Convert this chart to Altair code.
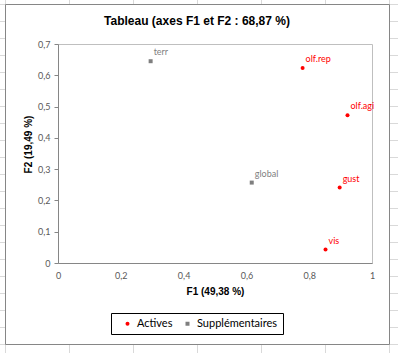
import altair as alt
import pandas as pd

# ---- data ----
labels = ["olf.rep", "olf.agi", "gust", "vis", "terr", "global"]
f1 = [0.779, 0.922, 0.897, 0.852, 0.295, 0.617]
f2 = [0.623, 0.472, 0.241, 0.043, 0.645, 0.257]
groups = ["Actives", "Actives", "Actives", "Actives", "Supplémentaires", "Supplémentaires"]

x_ticks = [0, 0.2, 0.4, 0.6, 0.8, 1]
y_ticks = [0, 0.1, 0.2, 0.3, 0.4, 0.5, 0.6, 0.7]
legend_items = ["Actives", "Supplémentaires"]
legend_colors = ["#ff0000", "#7f7f7f"]
legend_shapes = ["circle", "square"]

title_text = "Tableau (axes F1 et F2 : 68,87 %)"
x_title = "F1 (49,38 %)"
y_title = "F2 (19,49 %)"

df = pd.DataFrame({"label": labels, "F1": f1, "F2": f2, "group": groups})

# ---- layout (pixels) ----
W, H = 314, 219
PAD_L, PAD_T = 58, 44
TOTAL_W, TOTAL_H = 398, 353

# spreadsheet cell grid behind the chart object (decoration only)
sheet_rows = [4.5 + 17 * k - PAD_T for k in range(21)]
sheet_cols = [5.5 + 64 * k - PAD_L for k in range(7)]
frame_l, frame_r = 5.5 - PAD_L, 389.5 - PAD_L
frame_t, frame_b = 4.5 - PAD_T, 344.5 - PAD_T
grid_col = "#d9d9d9"

rows_df = pd.DataFrame({"py": sheet_rows})
cols_df = pd.DataFrame({"px": sheet_cols})
one = pd.DataFrame({"a": [0]})

rows_left = alt.Chart(rows_df).mark_rule(color=grid_col).encode(
    y=alt.Y("py:Q", scale=None, axis=None), x=alt.value(-PAD_L), x2=alt.value(frame_l))
rows_right = alt.Chart(rows_df).mark_rule(color=grid_col).encode(
    y=alt.Y("py:Q", scale=None, axis=None), x=alt.value(frame_r), x2=alt.value(TOTAL_W - PAD_L))
cols_top = alt.Chart(cols_df).mark_rule(color=grid_col).encode(
    x=alt.X("px:Q", scale=None, axis=None), y=alt.value(-PAD_T), y2=alt.value(frame_t))
cols_bot = alt.Chart(cols_df).mark_rule(color=grid_col).encode(
    x=alt.X("px:Q", scale=None, axis=None), y=alt.value(frame_b), y2=alt.value(TOTAL_H - PAD_T))
frame = alt.Chart(one).mark_rect(fillOpacity=0, stroke="#868686", strokeWidth=1).encode(
    x=alt.value(frame_l), x2=alt.value(frame_r), y=alt.value(frame_t), y2=alt.value(frame_b))
title = alt.Chart(one).mark_text(
    text=title_text, font="Liberation Sans", fontSize=12, fontWeight="bold",
    color="black", align="center", baseline="middle").encode(
    x=alt.value(197 - PAD_L), y=alt.value(21 - PAD_T))

bg = alt.layer(rows_left, rows_right, cols_top, cols_bot, frame, title)

label_expr = "replace(format(datum.value, '.1~f'), '.', ',')"

x_axis = alt.Axis(values=x_ticks, labelExpr=label_expr, ticks=False, grid=False,
                  domainColor="#868686", labelColor="#595959", labelFont="Lato",
                  labelFontSize=9, labelPadding=8, labelFlush=False,
                  labelOverlap=False,
                  title=x_title, titleFont="Liberation Sans", titleFontSize=10,
                  titleFontWeight="bold", titleColor="black",
                  titleX=W / 2, titleY=28, titleBaseline="middle",
                  titleAlign="center")
y_axis = alt.Axis(values=y_ticks, labelExpr=label_expr, ticks=True, tickSize=4,
                  tickColor="#868686", grid=False,
                  domainColor="#868686", labelColor="#595959", labelFont="Lato",
                  labelFontSize=9, labelPadding=4, labelFlush=False,
                  labelOverlap=False,
                  title=y_title, titleFont="Liberation Sans", titleFontSize=10,
                  titleFontWeight="bold", titleColor="black",
                  titleX=-30, titleY=100, titleAngle=270,
                  titleBaseline="middle", titleAlign="center")

x_scale = alt.Scale(domain=[0, 1], nice=False, zero=False)
y_scale = alt.Scale(domain=[0, 0.7], nice=False, zero=False)

leg = alt.Legend(title=None, orient="none", legendX=53, legendY=269, direction="horizontal")
color_scale = alt.Scale(domain=legend_items, range=legend_colors)

points = alt.Chart(df).mark_point(filled=True, opacity=1, size=16).encode(
    x=alt.X("F1:Q", scale=x_scale, axis=x_axis),
    y=alt.Y("F2:Q", scale=y_scale, axis=y_axis),
    color=alt.Color("group:N", scale=color_scale, legend=leg),
    shape=alt.Shape("group:N", scale=alt.Scale(domain=legend_items, range=legend_shapes), legend=leg),
)
texts = alt.Chart(df).mark_text(align="left", baseline="alphabetic", dx=3, dy=-6,
                                font="Lato", fontSize=9).encode(
    x=alt.X("F1:Q", scale=x_scale, axis=x_axis),
    y=alt.Y("F2:Q", scale=y_scale, axis=y_axis),
    text="label:N",
    color=alt.Color("group:N", scale=color_scale, legend=leg),
)

main = alt.layer(points, texts)

chart = alt.layer(bg, main).resolve_scale(x="independent", y="independent").properties(
    width=W, height=H,
    padding={"left": PAD_L, "top": PAD_T, "right": TOTAL_W - PAD_L - W, "bottom": TOTAL_H - PAD_T - H},
    autosize=alt.AutoSizeParams(type="none"),
    background="white",
).configure_view(stroke="#bfbfbf").configure_axis(labelOverlap=False).configure_legend(
    strokeColor="black", fillColor="white", padding=5, labelFont="Lato", labelFontSize=11,
    labelColor="black", symbolSize=16, columnPadding=3, labelOffset=4, symbolStrokeWidth=0,
    symbolOffset=6,
)

chart.save("out.html", embed_options={"renderer": "svg", "actions": False})
